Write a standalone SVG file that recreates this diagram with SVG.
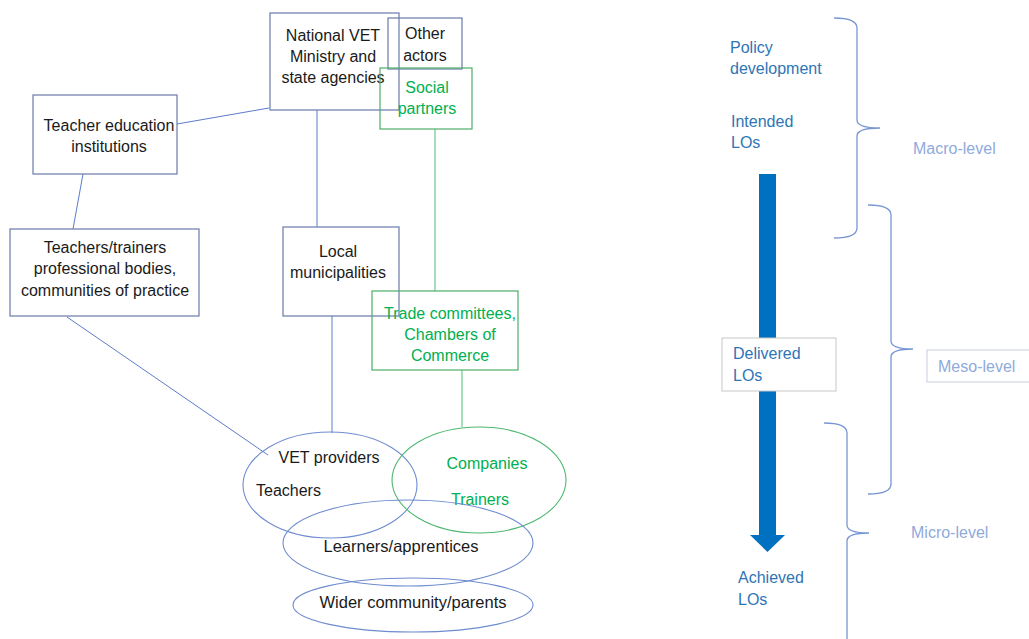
<svg xmlns="http://www.w3.org/2000/svg" width="1029" height="639" viewBox="0 0 1029 639">
<style>
text{font-family:"Liberation Sans",Arial,sans-serif;font-size:16px;}
.t{fill:#1a1a1a;}
.g{fill:#00b050;}
.b{fill:#2e75b6;}
.l{fill:#8faadc;}
.nb{fill:none;stroke:#6a7bab;stroke-width:1.2;}
.ng{fill:none;stroke:#4cae68;stroke-width:1.2;}
.cb{fill:none;stroke:#5b7cc8;stroke-width:1;}
.eb{fill:none;stroke:#6f8cd0;stroke-width:1.1;}
.cg{fill:none;stroke:#4cc074;stroke-width:1;}
.eg{fill:none;stroke:#4cb870;stroke-width:1.1;}
.br{fill:none;stroke:#7896d4;stroke-width:1.3;}
</style>
<rect width="1029" height="639" fill="#fff"/>
<g id="connectors">
<line class="cb" x1="177" y1="124" x2="269" y2="108"/>
<line class="cb" x1="83" y1="174" x2="73" y2="229"/>
<line class="cb" x1="67" y1="317" x2="268" y2="455"/>
<line class="cb" x1="317" y1="110" x2="317" y2="227"/>
<line class="cb" x1="332" y1="316" x2="332" y2="433"/>
<line class="cg" x1="435" y1="129" x2="435" y2="291"/>
<line class="cg" x1="462" y1="370" x2="462" y2="427"/>
</g>
<g id="national">
<rect class="nb" x="270" y="13" width="129" height="97"/>
<text class="t" x="333" y="41" text-anchor="middle">National VET</text>
<text class="t" x="333" y="62" text-anchor="middle">Ministry and</text>
<text class="t" x="333" y="83" text-anchor="middle">state agencies</text>
</g>
<g id="other">
<rect class="nb" x="388" y="18" width="74" height="51"/>
<text class="t" x="425" y="39" text-anchor="middle">Other</text>
<text class="t" x="425" y="61" text-anchor="middle">actors</text>
</g>
<g id="social">
<rect class="ng" x="380" y="68" width="92" height="61"/>
<text class="g" x="427" y="93" text-anchor="middle">Social</text>
<text class="g" x="427" y="114" text-anchor="middle">partners</text>
</g>
<g id="teachered">
<rect class="nb" x="33" y="95" width="144" height="79"/>
<text class="t" x="109" y="131" text-anchor="middle">Teacher education</text>
<text class="t" x="109" y="152" text-anchor="middle">institutions</text>
</g>
<g id="teachers">
<rect class="nb" x="10" y="229" width="189" height="87"/>
<text class="t" x="105" y="253" text-anchor="middle">Teachers/trainers</text>
<text class="t" x="105" y="274" text-anchor="middle">professional bodies,</text>
<text class="t" x="105" y="296" text-anchor="middle">communities of practice</text>
</g>
<g id="local">
<rect class="nb" x="283" y="227" width="116" height="89"/>
<text class="t" x="338" y="257" text-anchor="middle">Local</text>
<text class="t" x="338" y="278" text-anchor="middle">municipalities</text>
</g>
<g id="trade">
<rect class="ng" x="372" y="291" width="146" height="79"/>
<text class="g" x="450" y="319" text-anchor="middle">Trade committees,</text>
<text class="g" x="450" y="340" text-anchor="middle">Chambers of</text>
<text class="g" x="450" y="361" text-anchor="middle">Commerce</text>
</g>
<g id="vet">
<ellipse class="eb" cx="330" cy="485" rx="87" ry="53"/>
<text class="t" x="329" y="463" text-anchor="middle">VET providers</text>
<text class="t" x="256" y="496">Teachers</text>
</g>
<g id="companies">
<ellipse class="eg" cx="479" cy="480" rx="87" ry="53"/>
<text class="g" x="487" y="469" text-anchor="middle">Companies</text>
<text class="g" x="480" y="505" text-anchor="middle">Trainers</text>
</g>
<g id="learners">
<ellipse class="eb" cx="408" cy="543" rx="125" ry="43"/>
<text class="t" x="401" y="552" text-anchor="middle" style="font-size:16.5px">Learners/apprentices</text>
</g>
<g id="wider">
<ellipse class="eb" cx="413" cy="605" rx="120" ry="27"/>
<text class="t" x="413" y="608" text-anchor="middle" style="font-size:16.5px">Wider community/parents</text>
</g>
<g id="flow">
<text class="b" x="730" y="53">Policy</text>
<text class="b" x="730" y="74">development</text>
<text class="b" x="731" y="127">Intended</text>
<text class="b" x="731" y="148">LOs</text>
<rect x="759" y="174" width="17" height="362" fill="#0070c0"/>
<polygon points="750,535 785,535 767.5,552" fill="#0070c0"/>
</g>
<g id="delivered">
<rect x="722" y="338" width="114" height="53" fill="#fff" stroke="#c8c8c8" stroke-width="1"/>
<text class="b" x="733" y="359">Delivered</text>
<text class="b" x="733" y="381">LOs</text>
</g>
<g id="achieved">
<text class="b" x="738" y="583">Achieved</text>
<text class="b" x="738" y="605">LOs</text>
</g>
<g id="macro">
<path class="br" d="M834,18 Q857,18 857,28 L857,120 Q857,128 880,128 Q857,128 857,136 L857,228 Q857,238 834,238"/>
<text class="l" x="913" y="154">Macro-level</text>
</g>
<g id="meso">
<path class="br" d="M868,205 Q891,205 891,215 L891,341 Q891,349 913,349 Q891,349 891,357 L891,484 Q891,494 868,494"/>
<rect x="927" y="350" width="110" height="32" fill="#fff" stroke="#c8cde0" stroke-width="1"/>
<text class="l" x="938" y="372">Meso-level</text>
</g>
<g id="micro">
<path class="br" d="M824,423 Q847,423 847,433 L847,525 Q847,533 869,533 Q847,533 847,541 L847,645"/>
<text class="l" x="911" y="538">Micro-level</text>
</g>
</svg>
